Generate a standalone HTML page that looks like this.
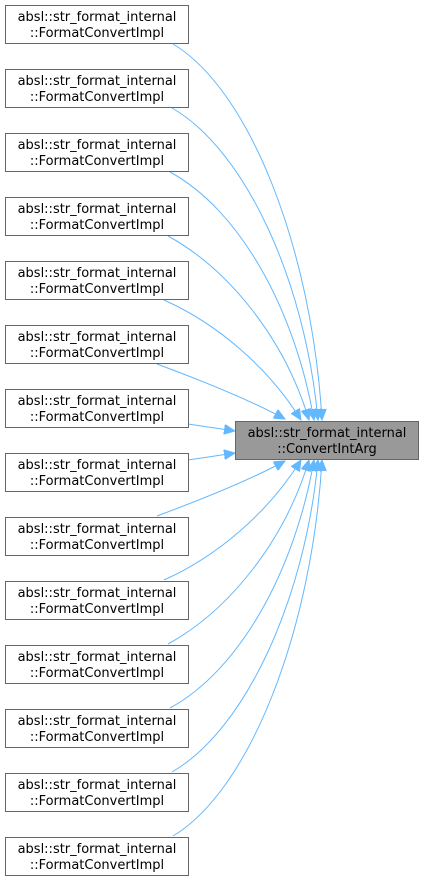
<!DOCTYPE html>
<html><head><meta charset="utf-8"><style>
body{margin:0;background:#fff;width:424px;height:883px;overflow:hidden}
text{font-family:"DejaVu Sans","Liberation Sans",sans-serif;font-size:13px;fill:#000}
</style></head><body>
<svg width="424" height="883" xmlns="http://www.w3.org/2000/svg">
<defs><marker id="a" markerUnits="userSpaceOnUse" markerWidth="12" markerHeight="10" refX="11" refY="5" orient="auto"><path d="M0,0 L11,5 L0,10 z" fill="#63b8ff" stroke="#63b8ff"/></marker></defs>
<g fill="none" stroke="#63b8ff" stroke-width="1" marker-end="url(#a)">
<path d="M173,44 C250,90 312,250 322,420"/>
<path d="M172,108 C245,150 305,280 318,420"/>
<path d="M170,172 C240,210 295,310 314,420"/>
<path d="M168,236 C230,270 285,340 309,420"/>
<path d="M164,300 C220,325 270,370 301,420"/>
<path d="M157,364 C200,380 250,400 285,419"/>
<path d="M188,424 L235,431"/>
<path d="M188,460 L235,453"/>
<path d="M157,516 C200,500 250,480 285,461"/>
<path d="M164,580 C220,555 270,510 301,460"/>
<path d="M168,644 C230,610 285,540 309,460"/>
<path d="M170,708 C240,670 295,570 314,460"/>
<path d="M172,772 C245,730 305,600 318,460"/>
<path d="M173,836 C250,790 312,630 322,460"/>
</g>
<g stroke="#666" stroke-width="1" fill="#fff">
<rect x="5.5" y="5.5" width="183" height="38"/>
<rect x="5.5" y="69.5" width="183" height="38"/>
<rect x="5.5" y="133.5" width="183" height="38"/>
<rect x="5.5" y="197.5" width="183" height="38"/>
<rect x="5.5" y="261.5" width="183" height="38"/>
<rect x="5.5" y="325.5" width="183" height="38"/>
<rect x="5.5" y="389.5" width="183" height="38"/>
<rect x="5.5" y="453.5" width="183" height="38"/>
<rect x="5.5" y="517.5" width="183" height="38"/>
<rect x="5.5" y="581.5" width="183" height="38"/>
<rect x="5.5" y="645.5" width="183" height="38"/>
<rect x="5.5" y="709.5" width="183" height="38"/>
<rect x="5.5" y="773.5" width="183" height="38"/>
<rect x="5.5" y="837.5" width="183" height="38"/>
<rect x="235.5" y="421.5" width="183" height="38" fill="#999"/>
</g>
<g text-anchor="middle">
<text x="97" y="21">absl::str_format_internal</text><text x="97" y="37">::FormatConvertImpl</text>
<text x="97" y="85">absl::str_format_internal</text><text x="97" y="101">::FormatConvertImpl</text>
<text x="97" y="149">absl::str_format_internal</text><text x="97" y="165">::FormatConvertImpl</text>
<text x="97" y="213">absl::str_format_internal</text><text x="97" y="229">::FormatConvertImpl</text>
<text x="97" y="277">absl::str_format_internal</text><text x="97" y="293">::FormatConvertImpl</text>
<text x="97" y="341">absl::str_format_internal</text><text x="97" y="357">::FormatConvertImpl</text>
<text x="97" y="405">absl::str_format_internal</text><text x="97" y="421">::FormatConvertImpl</text>
<text x="97" y="469">absl::str_format_internal</text><text x="97" y="485">::FormatConvertImpl</text>
<text x="97" y="533">absl::str_format_internal</text><text x="97" y="549">::FormatConvertImpl</text>
<text x="97" y="597">absl::str_format_internal</text><text x="97" y="613">::FormatConvertImpl</text>
<text x="97" y="661">absl::str_format_internal</text><text x="97" y="677">::FormatConvertImpl</text>
<text x="97" y="725">absl::str_format_internal</text><text x="97" y="741">::FormatConvertImpl</text>
<text x="97" y="789">absl::str_format_internal</text><text x="97" y="805">::FormatConvertImpl</text>
<text x="97" y="853">absl::str_format_internal</text><text x="97" y="869">::FormatConvertImpl</text>
<text x="327" y="437">absl::str_format_internal</text><text x="327" y="453">::ConvertIntArg</text>
</g>
</svg>
</body></html>
